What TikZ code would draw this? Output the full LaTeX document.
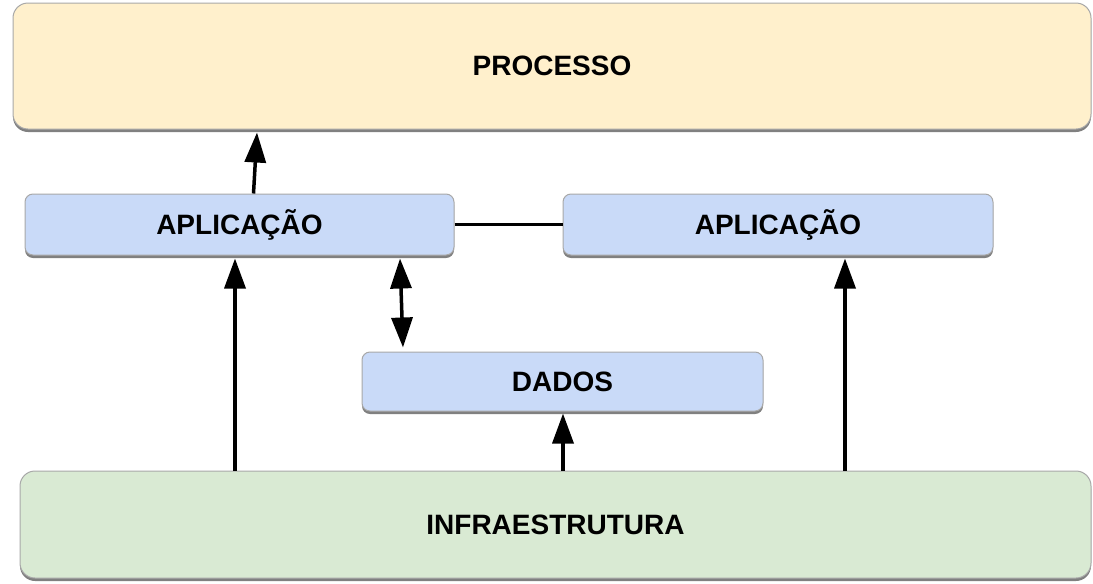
\documentclass[tikz,border=0pt]{standalone}
\usepackage{fontspec}
\setmainfont{Liberation Sans}
\usetikzlibrary{arrows.meta,shadows}
\definecolor{procfill}{HTML}{FFF0CC}
\definecolor{appfill}{HTML}{C9DAF8}
\definecolor{infrafill}{HTML}{D9EAD3}
\definecolor{boxline}{HTML}{A8A8A8}
\tikzset{
  box/.style={draw=boxline, line width=1pt, inner sep=0pt, anchor=center,
    font=\fontsize{28}{31}\selectfont\bfseries,
    drop shadow={shadow xshift=0pt, shadow yshift=-3pt, fill=black!50, opacity=1}},
  bigbox/.style={box, rounded corners=15pt},
  smallbox/.style={box, rounded corners=8pt, fill=appfill},
  arr/.style={line width=3.5pt, -{Triangle[length=30pt,width=21pt]}},
  darr/.style={line width=3.5pt, {Triangle[length=30pt,width=21pt]}-{Triangle[length=30pt,width=21pt]}},
  plain/.style={line width=3.5pt}
}
\begin{document}
\begin{tikzpicture}[x=1pt,y=-1pt]
\useasboundingbox (0,0) rectangle (1093,584);
\node[bigbox, fill=procfill, minimum width=1078pt, minimum height=126pt] (proc) at (552,66) {PROCESSO};
\node[smallbox, minimum width=429pt, minimum height=61pt] (appL) at (239.5,224.5) {APLICAÇÃO};
\node[smallbox, minimum width=430pt, minimum height=61pt] (appR) at (778,224.5) {APLICAÇÃO};
\node[smallbox, minimum width=401pt, minimum height=59pt] (dados) at (562.5,381.5) {DADOS};
\node[bigbox, fill=infrafill, minimum width=1071pt, minimum height=107pt] (infra) at (555.5,524.5) {INFRAESTRUTURA};
\draw[arr] ([xshift=14pt]appL.north) -- ([xshift=-295pt,yshift=-3pt]proc.south);
\draw[arr] ([xshift=-320.5pt]infra.north) -- ([xshift=-4.5pt,yshift=-3pt]appL.south);
\draw[arr] ([xshift=7.5pt]infra.north) -- ([xshift=0.5pt,yshift=-2pt]dados.south);
\draw[arr] ([xshift=289.5pt]infra.north) -- ([xshift=67pt,yshift=-3pt]appR.south);
\draw[darr] ([xshift=160.5pt,yshift=-3pt]appL.south) -- ([xshift=-159.5pt,yshift=4pt]dados.north);
\draw[plain] (appL.east) -- (appR.west);
\end{tikzpicture}
\end{document}
